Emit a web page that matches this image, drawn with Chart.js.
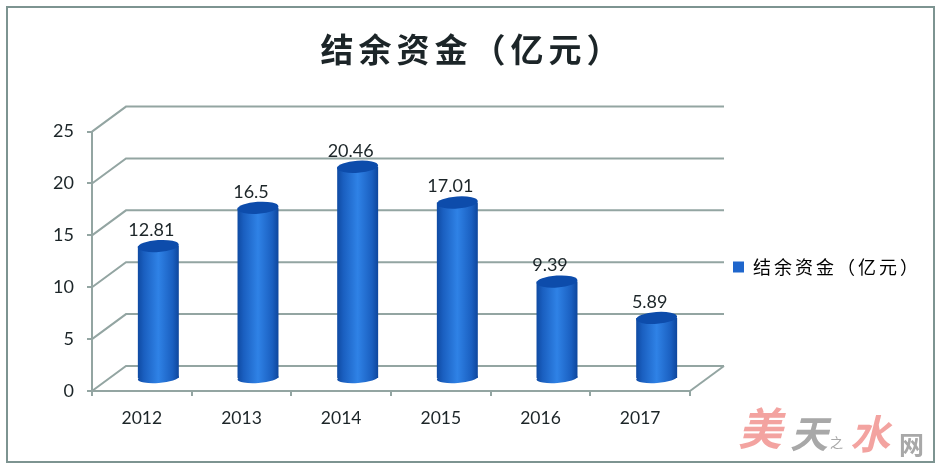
<!DOCTYPE html>
<html><head><meta charset="utf-8">
<style>html,body{margin:0;padding:0;background:#fff;overflow:hidden}canvas{display:block;filter:blur(0.5px)}</style>
<script src="https://cdn.jsdelivr.net/npm/chart.js@4"></script>
</head><body>
<canvas id="c" width="945" height="472"></canvas>
<script>
const categories = ['2012','2013','2014','2015','2016','2017'];
const seriesName = '结余资金（亿元）';
const seriesValues = [12.81,16.5,20.46,17.01,9.39,5.89];
const valueLabels = ['12.81','16.5','20.46','17.01','9.39','5.89'];
const AXIS = '#93a5a2', INK = '#1c2528';
const CJK = '"Noto Sans CJK SC"', LATIN = 'Lato, "Noto Sans"';
const DEPTH = {wallX:34, wallY:-25, barX:16.5, barY:-12, rx:20.5, ryTop:6, ryBase:5};

function barGradient(ctx, cx){
  const g = ctx.createLinearGradient(cx-20.5,0,cx+20.5,0);
  g.addColorStop(0,'#0f4aa2'); g.addColorStop(.15,'#1a5fc0');
  g.addColorStop(.5,'#2f82e6'); g.addColorStop(.85,'#1a5fc0'); g.addColorStop(1,'#0e469c');
  return g;
}
function wrapDraw(box, spacing, dx, dy){
  if(box._wrapped) return;
  const d = box.draw;
  box.draw = function(){
    const c = this.ctx, r = this.right;
    c.save(); c.translate(dx,dy); c.letterSpacing = spacing;
    this.right = r - dx;
    d.call(this);
    this.right = r;
    c.restore();
  };
  box._wrapped = true;
}
const scene = {
  id:'scene',
  afterLayout(chart){
    const t = chart.titleBlock, d = t.draw;
    if(!t._wrapped){
      t.draw = function(){
        const c = this.ctx;
        c.save(); c.translate(12.5,0); c.letterSpacing = '5px';
        d.call(this);
        c.restore();
      };
      t._wrapped = true;
    }
    wrapDraw(chart.legend,'3px',-37,31);
  },
  beforeDraw(chart){
    const {ctx} = chart;
    ctx.save();
    ctx.strokeStyle='#7d9491'; ctx.lineWidth=2;
    ctx.strokeRect(7,7,927,455);
    ctx.restore();
  },
  beforeDatasetsDraw(chart){
    const {ctx,chartArea:a,scales:{y}} = chart;
    ctx.save();
    ctx.strokeStyle=AXIS; ctx.lineWidth=2;
    y.ticks.forEach(t=>{
      const py=y.getPixelForValue(t.value);
      ctx.beginPath();
      ctx.moveTo(a.left,py);
      ctx.lineTo(a.left+DEPTH.wallX,py+DEPTH.wallY);
      ctx.lineTo(a.right+DEPTH.wallX,py+DEPTH.wallY);
      ctx.stroke();
    });
    const p0=y.getPixelForValue(0);
    ctx.beginPath();ctx.moveTo(a.right,p0);ctx.lineTo(a.right+DEPTH.wallX,p0+DEPTH.wallY);ctx.stroke();
    ctx.translate(DEPTH.barX,DEPTH.barY);
    chart.getDatasetMeta(0).data.forEach(b=>{
      ctx.fillStyle=barGradient(ctx,b.x);
      ctx.beginPath();ctx.ellipse(b.x,b.base,DEPTH.rx,DEPTH.ryBase,-0.07,0,Math.PI*2);ctx.fill();
    });
  },
  afterDatasetsDraw(chart){
    const {ctx} = chart;
    chart.getDatasetMeta(0).data.forEach((b,i)=>{
      ctx.fillStyle='#0d4cab';
      ctx.beginPath();ctx.ellipse(b.x,b.y,DEPTH.rx,DEPTH.ryTop,-0.07,0,Math.PI*2);ctx.fill();
    });
    ctx.restore();
    ctx.save();
    ctx.fillStyle=INK; ctx.font='18px '+LATIN; ctx.textAlign='center'; ctx.textBaseline='middle';
    chart.getDatasetMeta(0).data.forEach((b,i)=>{
      ctx.fillText(valueLabels[i], b.x+DEPTH.barX-7, b.y+DEPTH.barY-16);
    });
    ctx.restore();
  },
  afterDraw(chart){
    const {ctx} = chart;
    ctx.save();
    ctx.textBaseline='middle';
    ctx.font='italic 700 44px '+CJK; ctx.fillStyle='#f3a3a0'; ctx.fillText('美',738,428);
    ctx.font='italic 700 38px '+CJK; ctx.fillStyle='#a8a8a8'; ctx.fillText('天',790,434);
    ctx.font='13px '+CJK; ctx.fillStyle='#a8a8a8'; ctx.fillText('之',830,442);
    ctx.font='italic 700 40px '+CJK; ctx.fillStyle='#f3a3a0'; ctx.fillText('水',850,434);
    ctx.font='700 25px '+CJK; ctx.fillStyle='#a8a8a8'; ctx.fillText('网',899,444);
    ctx.restore();
  }
};
new Chart(document.getElementById('c'),{
  type:'bar',
  data:{labels:categories,datasets:[{
    label:seriesName,data:seriesValues,clip:false,
    backgroundColor:c=>{
      if(!c.chart.scales.x) return '#1f66cc';
      return barGradient(c.chart.ctx,c.chart.scales.x.getPixelForValue(c.dataIndex));
    },
    borderWidth:0,barPercentage:0.411,categoryPercentage:1
  }]},
  options:{
    responsive:false,animation:false,
    layout:{padding:{left:0,right:25,top:0,bottom:0}},
    plugins:{
      tooltip:{enabled:false},
      title:{display:true,text:seriesName,color:INK,font:{family:CJK,size:33,weight:'700'},padding:{top:30,bottom:62}},
      legend:{position:'right',labels:{
        usePointStyle:false,boxWidth:11,boxHeight:11,color:'#2b3335',padding:80,
        font:{family:CJK,size:18},
        generateLabels:c=>[{text:seriesName,fillStyle:'#1f66cc',strokeStyle:'#1f66cc',lineWidth:0,datasetIndex:0,hidden:false}]
      }}
    },
    scales:{
      x:{
        afterFit:s=>{s.height=81},
        grid:{drawOnChartArea:false,color:AXIS,tickLength:5,lineWidth:2},
        border:{color:AXIS,width:2},
        ticks:{color:INK,font:{family:LATIN,size:17.5},padding:12,maxRotation:0}
      },
      y:{
        min:0,max:25,
        afterFit:s=>{s.width=92},
        grid:{drawOnChartArea:false,color:AXIS,tickLength:5,lineWidth:2},
        border:{color:AXIS,width:2},
        ticks:{stepSize:5,color:INK,font:{family:LATIN,size:18},padding:13}
      }
    }
  },
  plugins:[scene]
});
</script>
</body></html>
